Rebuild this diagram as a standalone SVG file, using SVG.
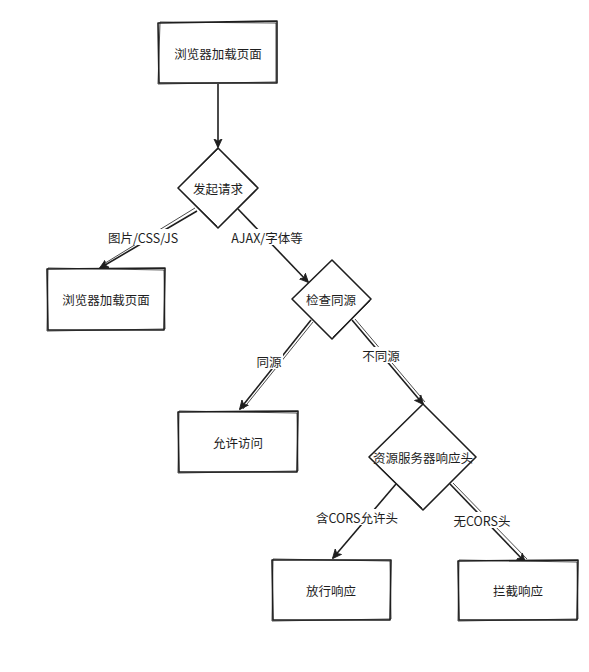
<svg xmlns="http://www.w3.org/2000/svg" width="589" height="672" viewBox="0 0 589 672">
<defs>
<style>
.n{fill:#fff;stroke:#1e1e1e;stroke-width:1.6;stroke-linejoin:round}
.s{fill:none;stroke:#1e1e1e;stroke-width:0.8}
.t{font-family:"Noto Sans CJK SC","Liberation Sans",sans-serif;font-size:12.5px;fill:#1e1e1e;text-anchor:middle;dominant-baseline:central}
.c{fill:none;stroke:#1e1e1e;stroke-width:1.6;marker-end:url(#ah)}
.lb{fill:#fff}
</style>
<marker id="ah" viewBox="0 0 12 12" refX="10" refY="6" markerWidth="10" markerHeight="10" markerUnits="userSpaceOnUse" orient="auto">
<path d="M0,1 L11,6 L0,11 L3,6 Z" fill="#1e1e1e" stroke="#1e1e1e" stroke-width="1"/>
</marker>
</defs>
<rect width="589" height="672" fill="#fff"/>
<g id="connectors">
<path class="c" d="M218,84 L218,147"/>
<path class="c" d="M197,211 L100,268"/>
<path class="s" d="M195,208 L102,265"/>
<path class="c" d="M238,209 L308,282"/>
<path class="c" d="M311,320 L240,409"/>
<path class="s" d="M313,322 L243,409"/>
<path class="c" d="M352,320 L423,404"/>
<path class="s" d="M355,319 L425,402"/>
<path class="c" d="M396,484 L333,558"/>
<path class="c" d="M450,484 L525,562"/>
<path class="s" d="M453,483 L527,559"/>
<rect class="lb" x="104" y="229" width="78" height="16"/>
<text class="t" x="143" y="237">图片/CSS/JS</text>
<rect class="lb" x="230" y="229" width="74" height="16"/>
<text class="t" x="267" y="237">AJAX/字体等</text>
<rect class="lb" x="255" y="353" width="28" height="16"/>
<text class="t" x="269" y="361">同源</text>
<rect class="lb" x="362" y="347" width="38" height="16"/>
<text class="t" x="381" y="355">不同源</text>
<rect class="lb" x="319" y="509" width="76" height="16"/>
<text class="t" x="357" y="517">含CORS允许头</text>
<rect class="lb" x="455" y="512" width="54" height="16"/>
<text class="t" x="482" y="520">无CORS头</text>
</g>
<g id="n1">
<path class="n" d="M158,23 L277,21 L277,83 L159,83 Z"/>
<path class="s" d="M160,22 L276,23 L276,82 L158,84 Z"/>
<text class="t" x="218" y="53">浏览器加载页面</text>
</g>
<g id="n2">
<path class="n" d="M218,148 L258,188 L218,228 L178,188 Z"/>
<path class="s" d="M179,189 L217,226 M180,186 L218,149"/>
<text class="t" x="218" y="188">发起请求</text>
</g>
<g id="n3">
<path class="n" d="M47,269 L165,268 L164,330 L48,330 Z"/>
<path class="s" d="M48,268 L164,270 L165,329 L47,331 Z"/>
<text class="t" x="106" y="299">浏览器加载页面</text>
</g>
<g id="n4">
<path class="n" d="M332,260 L371,299 L332,339 L292,299 Z"/>
<path class="s" d="M370,301 L333,337"/>
<text class="t" x="331" y="299">检查同源</text>
</g>
<g id="n5">
<path class="n" d="M178,412 L298,411 L297,472 L179,472 Z"/>
<path class="s" d="M179,411 L297,413 L298,471 L178,473 Z"/>
<text class="t" x="238" y="442">允许访问</text>
</g>
<g id="n6">
<path class="n" d="M423,404 L476,457 L423,510 L369,457 Z"/>
<path class="s" d="M424,405 L475,456 M370,458 L422,508"/>
<text class="t" x="423" y="457">资源服务器响应头</text>
</g>
<g id="n7">
<path class="n" d="M272,560 L391,560 L390,620 L273,620 Z"/>
<path class="s" d="M273,559 L390,561 L391,619 L272,621 Z"/>
<text class="t" x="331" y="590">放行响应</text>
</g>
<g id="n8">
<path class="n" d="M458,561 L578,560 L577,620 L459,620 Z"/>
<path class="s" d="M459,560 L577,562 L578,619 L458,621 Z"/>
<text class="t" x="518" y="590">拦截响应</text>
</g>
</svg>
